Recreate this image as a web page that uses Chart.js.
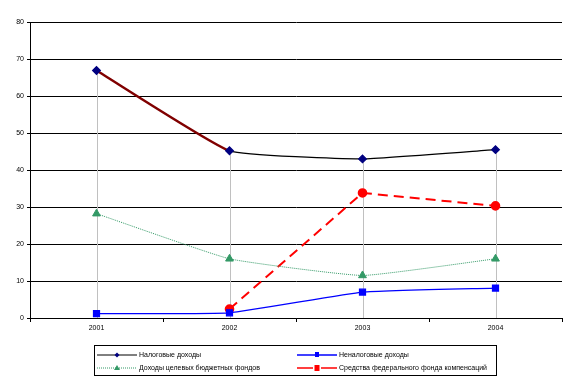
<!DOCTYPE html>
<html>
<head>
<meta charset="utf-8">
<script src="https://cdn.jsdelivr.net/npm/chart.js@4"></script>
<style>
  body { margin: 0; background: #fff; }
  #wrap { width: 576px; height: 386px; position: relative; }
</style>
</head>
<body>
<div id="wrap"><canvas id="myChart" width="576" height="386"></canvas></div>
<script>
// данные с картинки
const years = ["2001", "2002", "2003", "2004"];
const taxIncome = [66.9, 45.2, 43.0, 45.5];
const nonTaxIncome = [1.2, 1.4, 7.0, 8.1];
const targetFunds = [28.2, 16.0, 11.5, 16.0];
const federalComp = [null, 2.4, 33.8, 30.3];
const seriesNames = [
  "Налоговые доходы",
  "Неналоговые доходы",
  "Доходы целевых бюджетных фондов",
  "Средства федерального фонда компенсаций",
];

const FONT = "'Liberation Sans', Arial, sans-serif";

// серые вертикальные линии от максимума до оси
const dropLines = {
  id: "dropLines",
  beforeDatasetsDraw(chart) {
    const { ctx, scales } = chart;
    const x = scales.x, y = scales.y;
    ctx.save();
    ctx.strokeStyle = "#c0c0c0";
    ctx.lineWidth = 1;
    years.forEach((_, i) => {
      let top = null;
      chart.data.datasets.forEach((ds) => {
        const v = ds.data[i];
        if (v != null && (top == null || v > top)) top = v;
      });
      const px = Math.round(x.getPixelForValue(i)) + 0.5;
      ctx.beginPath();
      ctx.moveTo(px, y.getPixelForValue(top));
      ctx.lineTo(px, y.getPixelForValue(0));
      ctx.stroke();
    });
    ctx.restore();
  },
};

// легенда в рамке, две колонки
const boxLegend = {
  id: "boxLegend",
  afterDraw(chart) {
    const { ctx } = chart;
    const left = 94.5, top = 345.5, w = 402, h = 30;
    ctx.save();
    ctx.strokeStyle = "#000";
    ctx.lineWidth = 1;
    ctx.strokeRect(left, top, w, h);
    const cols = [97, 297];
    const rows = [355, 368];
    chart.data.datasets.forEach((ds, i) => {
      const x0 = cols[i % 2];
      const yy = rows[Math.floor(i / 2)];
      ctx.strokeStyle = ds.borderColor;
      ctx.lineWidth = ds.legendWidth;
      ctx.setLineDash(ds.legendDash || []);
      ctx.beginPath();
      ctx.moveTo(x0, yy);
      ctx.lineTo(x0 + 40, yy);
      ctx.stroke();
      ctx.setLineDash([]);
      ctx.fillStyle = ds.pointBackgroundColor;
      const mx = x0 + 20;
      ctx.beginPath();
      if (ds.pointStyle === "triangle") {
        ctx.moveTo(mx, yy - 3); ctx.lineTo(mx + 3, yy + 2); ctx.lineTo(mx - 3, yy + 2);
      } else if (ds.pointStyle === "rectRot") {
        ctx.moveTo(mx, yy - 2.5); ctx.lineTo(mx + 2.5, yy); ctx.lineTo(mx, yy + 2.5); ctx.lineTo(mx - 2.5, yy);
      } else if (ds.pointStyle === "circle") {
        ctx.rect(mx - 2.5, yy - 3, 5, 6);
      } else {
        ctx.rect(mx - 2, yy - 3, 4, 5);
      }
      ctx.fill();
      ctx.fillStyle = "#000";
      ctx.font = "7px " + FONT;
      ctx.textBaseline = "middle";
      ctx.fillText(ds.label, x0 + 42, yy + 0.5);
    });
    ctx.restore();
  },
};

new Chart(document.getElementById("myChart"), {
  type: "line",
  data: {
    labels: years,
    datasets: [
      {
        label: seriesNames[0],
        data: taxIncome,
        borderColor: "#000000",
        borderWidth: 1.3,
        legendWidth: 1,
        tension: 0.12,
        segment: {
          borderColor: (c) => (c.p0DataIndex === 0 ? "#800000" : "#000000"),
          borderWidth: (c) => (c.p0DataIndex === 0 ? 2.5 : 1.3),
        },
        pointStyle: "rectRot",
        pointRadius: 3.8,
        pointBackgroundColor: "#000080",
        pointBorderColor: "#000080",
      },
      {
        label: seriesNames[1],
        data: nonTaxIncome,
        borderColor: "#0000ff",
        borderWidth: 1.3,
        legendWidth: 1.5,
        tension: 0.12,
        pointStyle: "rect",
        pointRadius: 4.2,
        pointBackgroundColor: "#0000ff",
        pointBorderColor: "#0000ff",
      },
      {
        label: seriesNames[2],
        data: targetFunds,
        borderColor: "#339966",
        borderWidth: 1,
        legendWidth: 1,
        borderDash: [1, 1],
        legendDash: [1, 1],
        tension: 0.12,
        pointStyle: "triangle",
        pointRadius: 4.5,
        pointBackgroundColor: "#339966",
        pointBorderColor: "#339966",
      },
      {
        label: seriesNames[3],
        data: federalComp,
        borderColor: "#ff0000",
        borderWidth: 2,
        legendWidth: 1.5,
        borderDash: [10, 6],
        legendDash: [16, 8],
        tension: 0,
        pointStyle: "circle",
        pointRadius: 3.8,
        pointBackgroundColor: "#ff0000",
        pointBorderColor: "#ff0000",
      },
    ],
  },
  options: {
    responsive: false,
    animation: false,
    layout: { padding: { top: 22, right: 14, left: 0, bottom: 0 } },
    plugins: {
      legend: { display: false },
      tooltip: { enabled: false },
    },
    scales: {
      x: {
        offset: true,
        afterFit: (s) => { s.height = 68; },
        grid: {
          offset: true,
          drawOnChartArea: false,
          color: "#000",
          tickLength: 4,
        },
        border: { color: "#000", width: 1 },
        ticks: {
          color: "#000",
          font: { family: FONT, size: 7 },
          padding: 2,
          maxRotation: 0,
        },
      },
      y: {
        min: 0,
        max: 80,
        afterFit: (s) => { s.width = 30; },
        ticks: {
          stepSize: 10,
          color: "#000",
          font: { family: FONT, size: 7 },
          padding: 3,
        },
        grid: { color: "#000", tickLength: 3 },
        border: { color: "#000", width: 1 },
      },
    },
  },
  plugins: [dropLines, boxLegend],
});
</script>
</body>
</html>
